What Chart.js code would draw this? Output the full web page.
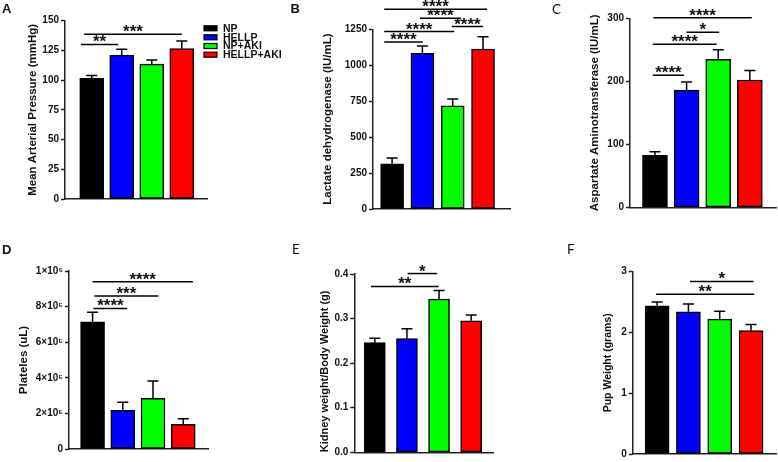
<!DOCTYPE html>
<html>
<head>
<meta charset="utf-8">
<script src="https://cdn.jsdelivr.net/npm/chart.js@4.4.1/dist/chart.umd.min.js"></script>
<style>
    html, body { margin: 0; padding: 0; background: #fff; }
    #figura { position: relative; width: 778px; height: 462px; overflow: hidden; }
    #figura canvas { position: absolute; }
</style>
</head>
<body>
<div id="figura">
    <canvas id="painelA" style="left:0px;top:0px" width="290" height="215"></canvas>
    <canvas id="painelB" style="left:290px;top:0px" width="240" height="225"></canvas>
    <canvas id="painelC" style="left:540px;top:0px" width="238" height="225"></canvas>
    <canvas id="painelD" style="left:0px;top:235px" width="260" height="227"></canvas>
    <canvas id="painelE" style="left:270px;top:235px" width="250" height="227"></canvas>
    <canvas id="painelF" style="left:540px;top:235px" width="238" height="227"></canvas>
</div>
<script>
// Grupos experimentais
const grupos = ['NP', 'HELLP', 'NP+AKI', 'HELLP+AKI'];
const coresGrupos = ['#000000', '#0000ff', '#00ff00', '#ff0000'];

// A - pressão arterial média
const pamMedia = [101.5, 121, 113.5, 126.5];
const pamErro = [2.5, 5, 3.5, 6.5];
const pamSig = [[-0.36, 0.88, 130, '**'], [-0.25, 3.0, 138.5, '***']];

// B - LDH
const ldhMedia = [315, 1083, 717, 1113];
const ldhErro = [40, 51, 48, 86];
const ldhSig = [
    [-0.26, 1.01, 1162, '****'],
    [-0.26, 2.05, 1234, '****'],
    [1.97, 3.0, 1269, '****'],
    [0.92, 2.27, 1327, '****'],
    [-0.26, 3.13, 1390, '****']
];

// C - AST
const astMedia = [82.5, 186, 235, 202];
const astErro = [5.5, 13, 15, 15];
const astSig = [
    [-0.07, 0.92, 209.5, '****'],
    [-0.07, 1.95, 259, '****'],
    [1.0, 2.03, 278, '*'],
    [-0.05, 3.06, 301, '****']
];

// D - plaquetas
const plaqMedia = [715000, 217000, 285000, 139000];
const plaqErro = [53000, 45000, 97000, 31000];
const plaqTicks = ['0', '2×10⁵', '4×10⁵', '6×10⁵', '8×10⁵', '1×10⁶'];
const plaqSig = [
    [0.03, 1.15, 790000, '****'],
    [0.06, 2.18, 860000, '***'],
    [0.0, 3.32, 939000, '****']
];

// E - rim / peso corporal
const rimMedia = [0.246, 0.255, 0.344, 0.295];
const rimErro = [0.010, 0.022, 0.019, 0.013];
const rimTicks = ['0.0', '0.1', '0.2', '0.3', '0.4'];
const rimSig = [[-0.12, 1.99, 0.372, '**'], [1.02, 1.94, 0.401, '*']];

// F - peso dos filhotes
const filhoteMedia = [2.44, 2.34, 2.22, 2.03];
const filhoteErro = [0.06, 0.13, 0.13, 0.10];
const filhoteSig = [[-0.03, 3.1, 2.63, '**'], [1.05, 3.08, 2.84, '*']];

const fonte = '"Liberation Sans", Arial, sans-serif';

// Plugin: barras de erro, colchetes de significância, letra do painel e legenda
const pluginPainel = {
    id: 'painel',
    afterDatasetsDraw(chart, args, opts) {
        const ctx = chart.ctx;
        const xs = chart.scales.x;
        const ys = chart.scales.y;
        ctx.save();
        ctx.strokeStyle = '#000';
        ctx.lineWidth = 1.5;

        // barras de erro (só para cima)
        opts.media.forEach(function (m, i) {
            const px = xs.getPixelForValue(i);
            const y0 = ys.getPixelForValue(m);
            const y1 = ys.getPixelForValue(m + opts.erro[i]);
            ctx.beginPath();
            ctx.moveTo(px, y0);
            ctx.lineTo(px, y1);
            ctx.moveTo(px - 5.5, y1);
            ctx.lineTo(px + 5.5, y1);
            ctx.stroke();
        });

        // colchetes com asteriscos
        ctx.fillStyle = '#111';
        ctx.font = 'bold 17px ' + fonte;
        ctx.textAlign = 'center';
        ctx.textBaseline = 'alphabetic';
        opts.sig.forEach(function (s) {
            const xa = xs.getPixelForValue(s[0]);
            const xb = xs.getPixelForValue(s[1]);
            const yy = ys.getPixelForValue(s[2]);
            ctx.beginPath();
            ctx.moveTo(xa, yy);
            ctx.lineTo(xb, yy);
            ctx.stroke();
            ctx.fillText(s[3], (xa + xb) / 2, yy + 3);
        });
        ctx.restore();
    },
    afterDraw(chart, args, opts) {
        const ctx = chart.ctx;
        ctx.save();
        ctx.fillStyle = '#111';
        ctx.font = opts.letra.font;
        ctx.textAlign = 'left';
        ctx.textBaseline = 'alphabetic';
        ctx.fillText(opts.letra.texto, opts.letra.x, opts.letra.y);

        if (opts.legenda) {
            ctx.font = 'bold 10.5px ' + fonte;
            ctx.textBaseline = 'middle';
            const linhas = [28.3, 37.3, 46, 54.7];
            grupos.forEach(function (g, i) {
                ctx.fillStyle = coresGrupos[i];
                ctx.fillRect(204, linhas[i] - 2.5, 13, 5);
                ctx.strokeStyle = '#000';
                ctx.lineWidth = 1.2;
                ctx.strokeRect(204, linhas[i] - 2.5, 13, 5);
                ctx.fillStyle = '#111';
                ctx.fillText(g, 223, linhas[i] + 0.5);
            });
        }
        ctx.restore();
    }
};

function plotarPainel(id, p) {
    const canvas = document.getElementById(id);
    const pontos = p.media.map(function (v, i) { return { x: i, y: v }; });
    return new Chart(canvas, {
        type: 'bar',
        data: {
            datasets: [{
                data: pontos,
                backgroundColor: coresGrupos,
                borderColor: '#000',
                borderWidth: 1.5,
                borderSkipped: false,
                barThickness: p.barra
            }]
        },
        options: {
            responsive: false,
            animation: false,
            layout: { padding: { left: 0, top: p.topo, right: p.direita, bottom: p.baixo } },
            plugins: {
                legend: { display: false },
                tooltip: { enabled: false },
                painel: {
                    media: p.media,
                    erro: p.erro,
                    sig: p.sig,
                    letra: p.letra,
                    legenda: p.legenda || false
                }
            },
            scales: {
                x: {
                    type: 'linear',
                    offset: false,
                    min: p.xmin,
                    max: p.xmax,
                    ticks: { display: false, stepSize: 1, includeBounds: false },
                    grid: { display: false },
                    border: { display: true, color: '#222', width: 1.5 },
                    afterFit: function (s) { s.height = 0; }
                },
                y: {
                    min: 0,
                    max: p.max,
                    ticks: {
                        stepSize: p.passo,
                        color: '#111',
                        padding: 2,
                        font: { family: fonte, size: 10, weight: 'bold' },
                        callback: p.rotulos ? function (v, i) { return p.rotulos[i]; } : undefined
                    },
                    grid: {
                        display: true,
                        drawOnChartArea: false,
                        drawTicks: true,
                        tickLength: 4,
                        tickWidth: 1.5,
                        tickColor: '#222'
                    },
                    border: { display: true, color: '#222', width: 1.5 },
                    title: {
                        display: true,
                        text: p.titulo,
                        color: '#111',
                        align: p.alinhar || 'center',
                        font: { family: fonte, size: p.tamTitulo || 11.5, weight: 'bold' },
                        padding: { top: p.padTitulo, bottom: 0 }
                    },
                    afterFit: function (s) { s.width = p.largEixo; }
                }
            }
        },
        plugins: [pluginPainel]
    });
}

const letraNegrito = 'bold 13px ' + fonte;
const letraNormal = '13.5px Lato, "Open Sans", sans-serif';

plotarPainel('painelA', {
    media: pamMedia, erro: pamErro, sig: pamSig,
    max: 150, passo: 25, titulo: 'Mean Arterial Pressure (mmHg)',
    largEixo: 65, topo: 20.7, baixo: 16, direita: 83, padTitulo: 26.1,
    xmin: -0.89, xmax: 3.84, barra: 24,
    letra: { texto: 'A', x: 2, y: 13, font: letraNegrito },
    legenda: true
});

plotarPainel('painelB', {
    media: ldhMedia, erro: ldhErro, sig: ldhSig,
    max: 1250, passo: 250, titulo: 'Lactate dehydrogenase (IU/mL)',
    largEixo: 83, topo: 29.3, baixo: 16, direita: 20, padTitulo: 31.4,
    xmin: -0.63, xmax: 3.89, barra: 23,
    letra: { texto: 'B', x: 0.5, y: 13, font: letraNegrito }
});

plotarPainel('painelC', {
    media: astMedia, erro: astErro, sig: astSig,
    max: 300, passo: 100, titulo: 'Aspartate Aminotransferase (IU/mL)',
    largEixo: 90, topo: 18.3, baixo: 17.7, direita: 1.3, padTitulo: 48.1,
    xmin: -0.79, xmax: 3.85, barra: 25,
    letra: { texto: 'C', x: 12, y: 14, font: letraNormal }
});

plotarPainel('painelD', {
    media: plaqMedia, erro: plaqErro, sig: plaqSig,
    max: 1000000, passo: 200000, rotulos: plaqTicks, titulo: 'Plateles (uL)',
    largEixo: 69, topo: 36, baixo: 13, direita: 51.7, padTitulo: 17.1,
    xmin: -0.78, xmax: 3.83, barra: 24,
    letra: { texto: 'D', x: 2, y: 19, font: letraNegrito }
});

plotarPainel('painelE', {
    media: rimMedia, erro: rimErro, sig: rimSig,
    max: 0.4, passo: 0.1, rotulos: rimTicks, titulo: 'Kidney weight/Body Weight (g)',
    largEixo: 84.3, topo: 39, baixo: 9.7, direita: 26.7, padTitulo: 48.1,
    tamTitulo: 11, alinhar: 'start',
    xmin: -0.64, xmax: 3.69, barra: 21,
    letra: { texto: 'E', x: 22, y: 19, font: letraNormal }
});

plotarPainel('painelF', {
    media: filhoteMedia, erro: filhoteErro, sig: filhoteSig,
    max: 3, passo: 1, titulo: 'Pup Weight (grams)',
    largEixo: 92.7, topo: 36.7, baixo: 4.7, direita: 1.3, padTitulo: 62,
    tamTitulo: 10.5,
    xmin: -0.78, xmax: 3.82, barra: 24,
    letra: { texto: 'F', x: 27, y: 19, font: letraNormal }
});
</script>
</body>
</html>
